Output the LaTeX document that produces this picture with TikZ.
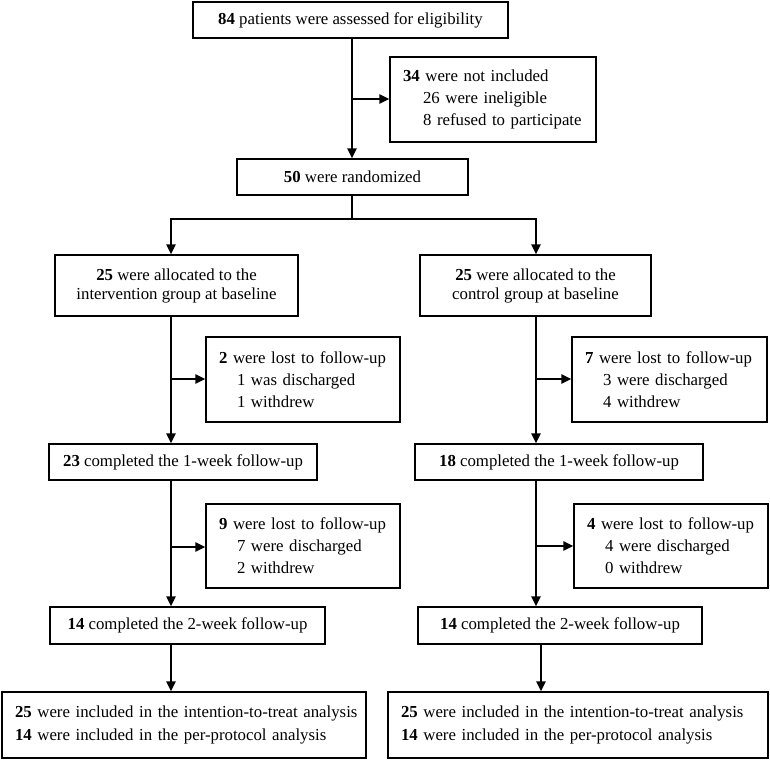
\documentclass[tikz,border=0pt]{standalone}
\usepackage{fontspec}
\setmainfont{Liberation Serif}
\usetikzlibrary{arrows.meta}
\begin{document}
\begin{tikzpicture}[x=1pt,y=-1pt,
  box/.style={draw, line width=1.5pt, inner sep=0pt, align=center,
    font=\fontsize{16.8}{22}\selectfont},
  cbox/.style={box, font=\fontsize{16.8}{19}\selectfont},
  lbox/.style={box, align=left, inner xsep=13pt},
  arr/.style={line width=1.5pt, -{Triangle[length=10pt,width=9.5pt]}},
  ln/.style={line width=1.5pt}]
\useasboundingbox (0,0) rectangle (770,761);
% boxes
\node[box, minimum width=315pt, minimum height=36pt] (top) at (350.5,20)
  {\textbf{84} patients were assessed for eligibility};
\node[lbox, text width=180pt, minimum height=85pt] (excl) at (493,99.5)
  {\textbf{34} were not included\\\hspace*{20pt}26 were ineligible\\\hspace*{20pt}8 refused to participate};
\node[box, minimum width=231pt, minimum height=36pt] (rand) at (352.5,177)
  {\textbf{50} were randomized};
\node[cbox, minimum width=243pt, minimum height=61pt] (intL) at (176.5,285.5)
  {\textbf{25} were allocated to the\\intervention group at baseline};
\node[cbox, minimum width=231pt, minimum height=61pt] (intR) at (535.5,285.5)
  {\textbf{25} were allocated to the\\control group at baseline};
\node[lbox, text width=168pt, minimum height=85pt] (lost1L) at (303,379.5)
  {\textbf{2} were lost to follow-up\\\hspace*{18pt}1 was discharged\\\hspace*{18pt}1 withdrew};
\node[lbox, text width=169pt, minimum height=85pt] (lost1R) at (669.5,379.5)
  {\textbf{7} were lost to follow-up\\\hspace*{18pt}3 were discharged\\\hspace*{18pt}4 withdrew};
\node[box, minimum width=268pt, minimum height=36pt] (c1L) at (183,462)
  {\textbf{23} completed the 1-week follow-up};
\node[box, minimum width=288pt, minimum height=36pt] (c1R) at (559,462)
  {\textbf{18} completed the 1-week follow-up};
\node[lbox, text width=168pt, minimum height=84pt] (lost2L) at (303,546)
  {\textbf{9} were lost to follow-up\\\hspace*{18pt}7 were discharged\\\hspace*{18pt}2 withdrew};
\node[lbox, text width=168pt, minimum height=84pt] (lost2R) at (671,546)
  {\textbf{4} were lost to follow-up\\\hspace*{18pt}4 were discharged\\\hspace*{18pt}0 withdrew};
\node[box, minimum width=275pt, minimum height=37pt] (c2L) at (187.5,625.5)
  {\textbf{14} completed the 2-week follow-up};
\node[box, minimum width=284pt, minimum height=37pt] (c2R) at (560,625.5)
  {\textbf{14} completed the 2-week follow-up};
\node[lbox, text width=338pt, minimum height=66pt] (finL) at (184,725)
  {\mbox{\textbf{25} were included in the intention-to-treat analysis}\\[1.5pt]\mbox{\textbf{14} were included in the per-protocol analysis}};
\node[lbox, text width=354pt, minimum height=66pt] (finR) at (578,725)
  {\mbox{\textbf{25} were included in the intention-to-treat analysis}\\[1.5pt]\mbox{\textbf{14} were included in the per-protocol analysis}};
% reference coordinates
\coordinate (cM) at (352,0);
\coordinate (cL) at (171,0);
\coordinate (cR) at (536,0);
\coordinate (cR2) at (541,0);
\coordinate (b0) at (352,99);
\coordinate (j0) at (352,219);
\coordinate (bL1) at (171,379);
\coordinate (bR1) at (536,379);
\coordinate (bL2) at (171,547);
\coordinate (bR2) at (536,546);
% connectors
\draw[arr] (top.south -| cM) -- (rand.north -| cM);
\draw[arr] (b0) -- (b0 -| excl.west);
\draw[ln] (rand.south -| cM) -- (j0);
\draw[arr] (j0) -| (intL.north -| cL);
\draw[arr] (j0) -| (intR.north -| cR);
\draw[arr] (intL.south -| cL) -- (c1L.north -| cL);
\draw[arr] (bL1) -- (bL1 -| lost1L.west);
\draw[arr] (intR.south -| cR) -- (c1R.north -| cR);
\draw[arr] (bR1) -- (bR1 -| lost1R.west);
\draw[arr] (c1L.south -| cL) -- (c2L.north -| cL);
\draw[arr] (bL2) -- (bL2 -| lost2L.west);
\draw[arr] (c1R.south -| cR) -- (c2R.north -| cR);
\draw[arr] (bR2) -- (bR2 -| lost2R.west);
\draw[arr] (c2L.south -| cL) -- (finL.north -| cL);
\draw[arr] (c2R.south -| cR2) -- (finR.north -| cR2);
\end{tikzpicture}
\end{document}
